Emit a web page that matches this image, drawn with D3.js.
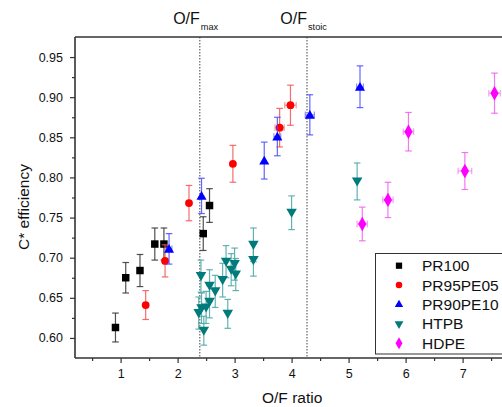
<!DOCTYPE html>
<html><head><meta charset="utf-8">
<script src="https://cdn.jsdelivr.net/npm/d3@7"></script>
<style>body{margin:0;background:#fff}svg{display:block;font-family:Arial,"Liberation Sans",sans-serif}</style>
</head><body><div id="c"></div>
<script>
const pr100X = [0.91,1.09,1.34,1.60,1.76,2.45,2.56];
const pr100Y = [0.613,0.675,0.684,0.717,0.717,0.730,0.765];
const pr100E = [0.018,0.019,0.020,0.020,0.020,0.021,0.021];
const pr100XE = [0,0,0,0,0,0,0];

const pr95X = [1.44,1.78,2.20,2.97,3.79,3.98];
const pr95Y = [0.641,0.696,0.768,0.817,0.862,0.890];
const pr95E = [0.018,0.020,0.022,0.023,0.024,0.025];
const pr95XE = [0,0,0,0,0.08,0.1];

const pr90X = [1.85,2.42,3.52,3.75,4.32,5.20];
const pr90Y = [0.711,0.777,0.821,0.851,0.878,0.913];
const pr90E = [0.019,0.022,0.023,0.024,0.025,0.026];
const pr90XE = [0.05,0,0,0.06,0.08,0.06];

const htpbX = [2.37,2.41,2.42,2.46,2.50,2.56,2.56,2.66,2.79,2.85,2.88,2.94,3.00,3.02,3.33,3.33,4.00,5.15];
const htpbY = [0.631,0.677,0.637,0.609,0.638,0.645,0.665,0.658,0.672,0.695,0.630,0.685,0.692,0.679,0.716,0.697,0.756,0.795];
const htpbE = [0.020,0.020,0.019,0.018,0.020,0.020,0.020,0.020,0.021,0.020,0.018,0.020,0.020,0.020,0.021,0.020,0.021,0.023];
const htpbXE = [0,0,0,0,0,0,0,0,0,0,0,0,0,0,0,0,0,0];

const hdpeX = [5.24,5.69,6.05,7.04,7.56];
const hdpeY = [0.742,0.772,0.857,0.808,0.905];
const hdpeE = [0.021,0.022,0.024,0.023,0.025];
const hdpeXE = [0.09,0.09,0.09,0.12,0.1];

const seriesNames = ["PR100","PR95PE05","PR90PE10","HTPB","HDPE"];
const xTicks = [1,2,3,4,5,6,7];
const yTicks = [0.60,0.65,0.70,0.75,0.80,0.85,0.90,0.95];
const vLines = [{x:2.39, sub:"max"},{x:4.27, sub:"stoic"}];

const series = [
  {name:seriesNames[0], x:pr100X, y:pr100Y, e:pr100E, xe:pr100XE, color:"#000000", err:"#333333", shape:d3.symbolSquare, size:56},
  {name:seriesNames[1], x:pr95X, y:pr95Y, e:pr95E, xe:pr95XE, color:"#ff0000", err:"#f25555", shape:d3.symbolCircle, size:48},
  {name:seriesNames[2], x:pr90X, y:pr90Y, e:pr90E, xe:pr90XE, color:"#0000ff", err:"#4a4aff", shape:d3.symbolTriangle, size:44},
  {name:seriesNames[3], x:htpbX, y:htpbY, e:htpbE, xe:htpbXE, color:"#007b7b", err:"#4aa6a6", shape:d3.symbolTriangle, size:48, rot:180},
  {name:seriesNames[4], x:hdpeX, y:hdpeY, e:hdpeE, xe:hdpeXE, color:"#ff00ff", err:"#f060f0", shape:d3.symbolDiamond, size:60}
];

const W=502,H=407;
const svg=d3.select("#c").append("svg").attr("width",W).attr("height",H);
const L=75,T=37,B=358;
const x=d3.scaleLinear().domain([0.2,8.0]).range([L,L+7.8*57]);
const y=d3.scaleLinear().domain([0.575,0.975]).range([B,T]);

// vertical dotted lines
vLines.forEach(v=>{
  svg.append("line").attr("x1",x(v.x)).attr("x2",x(v.x)).attr("y1",T).attr("y2",B)
    .attr("stroke","#444").attr("stroke-width",1).attr("stroke-dasharray","1.5,1.5");
  const t=svg.append("text").attr("x",x(v.x)).attr("y",24).attr("text-anchor","end")
    .attr("font-size",16).attr("fill","#111").text("O/F");
  svg.append("text").attr("x",x(v.x)+1).attr("y",29.5).attr("font-size",9.2).attr("fill","#111").text(v.sub);
});

// axes
const xAxis=d3.axisBottom(x).tickValues(xTicks).tickSize(5).tickPadding(6).tickFormat(d3.format("d"));
const gx=svg.append("g").attr("transform",`translate(0,${B})`).call(xAxis);
const xMinor=d3.axisBottom(x).tickValues(d3.range(0.5,8,1)).tickSize(3).tickFormat("");
svg.append("g").attr("transform",`translate(0,${B})`).call(xMinor);
const yAxis=d3.axisLeft(y).tickValues(yTicks).tickSize(5).tickPadding(7).tickFormat(d3.format(".2f"));
const gy=svg.append("g").attr("transform",`translate(${L},0)`).call(yAxis);
const yMinor=d3.axisLeft(y).tickValues(d3.range(0.625,0.97,0.05)).tickSize(3).tickFormat("");
svg.append("g").attr("transform",`translate(${L},0)`).call(yMinor);
svg.selectAll(".domain").remove();
svg.selectAll(".tick line").attr("stroke","#333").attr("stroke-width",1.2);
svg.selectAll(".tick text").attr("font-size",12.5).attr("fill","#111").style("font-family","Arial, 'Liberation Sans', sans-serif");
svg.append("line").attr("x1",L).attr("x2",W).attr("y1",B).attr("y2",B).attr("stroke","#333").attr("stroke-width",1.6);
svg.append("line").attr("x1",L).attr("x2",L).attr("y1",T).attr("y2",B).attr("stroke","#333").attr("stroke-width",1.6);
svg.append("line").attr("x1",L).attr("x2",W).attr("y1",T).attr("y2",T).attr("stroke","#333").attr("stroke-width",1.6);

// axis titles
svg.append("text").attr("x",262).attr("y",403).attr("font-size",15.5).attr("fill","#111").text("O/F ratio");
svg.append("text").attr("transform","translate(29,207) rotate(-90)").attr("text-anchor","middle")
  .attr("font-size",15.5).attr("fill","#111").text("C* efficiency");

// data
const cap=3.3;
series.forEach(s=>{
  const g=svg.append("g");
  s.x.forEach((xv,i)=>{
    const px=x(xv), py=y(s.y[i]), e=s.e[i];
    const y1=y(s.y[i]+e), y2=y(s.y[i]-e);
    g.append("line").attr("x1",px).attr("x2",px).attr("y1",y1).attr("y2",y2).attr("stroke",s.err).attr("stroke-width",1.2).attr("opacity",0.85);
    [y1,y2].forEach(yy=>g.append("line").attr("x1",px-cap).attr("x2",px+cap).attr("y1",yy).attr("y2",yy).attr("stroke",s.err).attr("stroke-width",1.2).attr("opacity",0.85));
    if(s.xe[i]>0){
      const x1=x(xv-s.xe[i]), x2=x(xv+s.xe[i]);
      g.append("line").attr("x1",x1).attr("x2",x2).attr("y1",py).attr("y2",py).attr("stroke",s.err).attr("stroke-width",1.2).attr("opacity",0.6);
      [x1,x2].forEach(xx=>g.append("line").attr("x1",xx).attr("x2",xx).attr("y1",py-cap).attr("y2",py+cap).attr("stroke",s.err).attr("stroke-width",1.2).attr("opacity",0.6));
    }
  });
  s.x.forEach((xv,i)=>{
    g.append("path").attr("d",d3.symbol().type(s.shape).size(s.size)())
      .attr("transform",`translate(${x(xv)},${y(s.y[i])+(s.rot?-1:(s.shape===d3.symbolTriangle?1:0))}) rotate(${s.rot||0})`)
      .attr("fill",s.color);
  });
});

// legend
const lg=svg.append("g");
lg.append("rect").attr("x",375.5).attr("y",253.5).attr("width",140).attr("height",100.5)
  .attr("fill","#fff").attr("stroke","#333").attr("stroke-width",1);
series.forEach((s,i)=>{
  const yy=265.7+i*19.4;
  lg.append("path").attr("d",d3.symbol().type(s.shape).size(s.size*0.7)())
    .attr("transform",`translate(399,${yy}) rotate(${s.rot||0})`).attr("fill",s.color);
  lg.append("text").attr("x",422).attr("y",yy+5.5).attr("font-size",15.5).attr("fill","#111").text(s.name);
});
</script></body></html>
